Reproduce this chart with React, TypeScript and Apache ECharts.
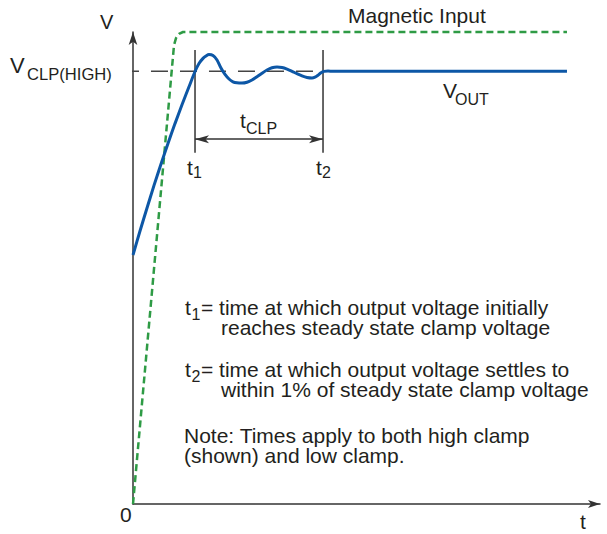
import React, { useEffect, useRef } from 'react';
import * as echarts from 'echarts';

// ---- data (arbitrary units: time 0..100, voltage 0..100) ----
const vOut: [number, number][] = [
  [0, 52.75], [1.5, 57.84], [3.0, 62.71], [4.5, 67.5], [6.0, 72.03], [7.49, 76.4],
  [8.99, 80.59], [10.49, 84.58], [11.99, 88.39], [13.28, 91.63], [14.13, 93.33],
  [14.99, 94.41], [15.63, 94.92], [16.27, 95.23], [17.13, 95.02], [17.99, 94.07],
  [18.84, 92.37], [19.7, 91.0], [20.56, 90.04], [21.41, 89.45], [22.27, 89.24],
  [23.34, 89.19], [24.41, 89.36], [25.48, 89.83], [26.55, 90.51], [27.62, 91.27],
  [28.69, 91.95], [29.76, 92.42], [30.84, 92.58], [31.91, 92.48], [32.98, 92.14],
  [34.05, 91.67], [35.12, 91.17], [36.19, 90.7], [37.26, 90.36], [38.33, 90.25],
  [38.97, 90.42], [39.61, 90.83], [40.26, 91.36], [40.9, 91.65], [41.76, 91.72],
  [42.83, 91.7], [92.93, 91.7],
];
const magneticInput: [number, number][] = [
  [0, 0], [8.78, 97.2], [9.21, 98.7], [9.85, 99.6], [10.71, 100], [92.93, 100],
];
const vClampLevel = 91.7;
const vClampStart = -2.36;
const t1 = 13.28;
const t2 = 40.69;
const markerTop = 96.2;
const markerBottom = 74.4;
const tClpArrowLevel = 77.3;

const FONT = "'Liberation Sans', Arial, Helvetica, sans-serif";
const INK = '#231f20';

function txt(text: string, x: number, y: number, size: number) {
  return {
    type: 'text',
    x,
    y,
    z: 10,
    silent: true,
    style: {
      text,
      fontSize: size,
      fontFamily: FONT,
      fill: INK,
      align: 'left',
      verticalAlign: 'middle',
    },
  };
}

function para(first: string, second: string, x: number, y: number, lineHeight: number, indent: number) {
  const base = { fontSize: 21, fontFamily: FONT, fill: INK, lineHeight };
  return {
    type: 'text',
    x,
    y,
    z: 10,
    silent: true,
    style: {
      text: `{a|${first}}\n{b|${second}}`,
      align: 'left',
      verticalAlign: 'middle',
      fontSize: 21,
      fontFamily: FONT,
      fill: INK,
      lineHeight,
      rich: {
        a: { ...base },
        b: { ...base, padding: [0, 0, 0, indent] },
      },
    },
  };
}

export default function App() {
  const ref = useRef<HTMLDivElement>(null);
  useEffect(() => {
    if (!ref.current) return;
    const chart = echarts.init(ref.current, null, { renderer: 'svg' });
    const axisCommon = {
      type: 'value',
      min: 0,
      max: 100,
      axisTick: { show: false },
      axisLabel: { show: false },
      splitLine: { show: false },
    };
    chart.setOption({
      animation: false,
      backgroundColor: '#ffffff',
      grid: { left: 133, right: 7, top: 32, bottom: 30, containLabel: false },
      xAxis: {
        ...axisCommon,
        axisLine: {
          show: true,
          onZero: false,
          symbol: ['none', 'arrow'],
          symbolSize: [6, 12],
          lineStyle: { color: '#333333', width: 1.5 },
        },
      },
      yAxis: {
        ...axisCommon,
        axisLine: {
          show: true,
          onZero: false,
          symbol: ['none', 'arrow'],
          symbolSize: [6.5, 13],
          lineStyle: { color: '#333333', width: 1.5 },
        },
      },
      series: [
        {
          type: 'line',
          data: [[vClampStart, vClampLevel], [t2, vClampLevel]],
          symbol: 'none',
          clip: false,
          z: 1,
          lineStyle: { color: '#444444', width: 1.5, type: [17, 12] },
          markLine: {
            silent: true,
            symbol: ['arrow', 'arrow'],
            symbolSize: [6, 14],
            label: { show: false },
            lineStyle: { color: '#333333', width: 1.5, type: 'solid' },
            data: [[{ coord: [t1, tClpArrowLevel] }, { coord: [t2, tClpArrowLevel] }]],
          },
        },
        {
          type: 'line',
          data: [[t1, markerTop], [t1, markerBottom]],
          symbol: 'none',
          clip: false,
          z: 1,
          lineStyle: { color: '#333333', width: 1.5 },
        },
        {
          type: 'line',
          data: [[t2, markerTop], [t2, markerBottom]],
          symbol: 'none',
          clip: false,
          z: 1,
          lineStyle: { color: '#333333', width: 1.5 },
        },
        {
          type: 'line',
          data: magneticInput,
          symbol: 'none',
          clip: false,
          z: 2,
          lineStyle: { color: '#2e9b45', width: 2.5, type: [7, 4] },
        },
        {
          type: 'line',
          data: vOut,
          symbol: 'none',
          smooth: 0.3,
          clip: false,
          z: 3,
          lineStyle: { color: '#0d57a6', width: 3 },
        },
      ],
      graphic: [
        txt('V', 100, 21.5, 20),
        txt('0', 120, 514.5, 21),
        txt('t', 580, 521, 21),
        txt('Magnetic Input', 348, 15.3, 21),
        txt('V', 10, 65.5, 22),
        txt('CLP(HIGH)', 27, 74.5, 16.6),
        txt('V', 443, 90.5, 21),
        txt('OUT', 455, 99, 16),
        txt('t', 240, 120.5, 21),
        txt('CLP', 246, 128.3, 16),
        txt('t', 187, 167.5, 21),
        txt('1', 193, 172.3, 16),
        txt('t', 316, 167.5, 21),
        txt('2', 322, 172.3, 16),
        txt('t', 185, 307.5, 21),
        txt('1', 191.5, 314.3, 16),
        para('= time at which output voltage initially', 'reaches steady state clamp voltage', 201, 317.5, 20, 20),
        txt('t', 185, 369, 21),
        txt('2', 191.5, 376, 16),
        para('= time at which output voltage settles to', 'within 1% of steady state clamp voltage', 201, 379, 20, 20),
        para('Note: Times apply to both high clamp', '(shown) and low clamp.', 184, 445.25, 19.5, 0),
      ],
    });
    return () => chart.dispose();
  }, []);
  return (
    <div
      ref={ref}
      style={{ position: 'fixed', left: 0, top: 0, width: 607, height: 534, background: '#fff' }}
    />
  );
}
